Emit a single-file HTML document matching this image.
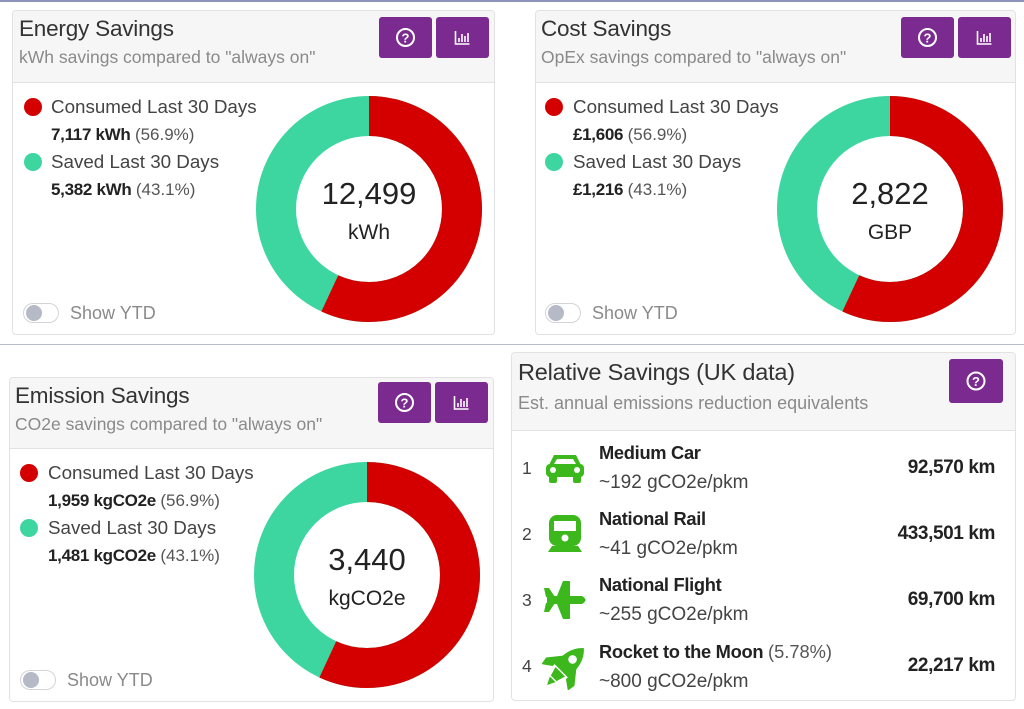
<!DOCTYPE html>
<html><head><meta charset="utf-8">
<style>
*{margin:0;padding:0;box-sizing:border-box}
html,body{width:1024px;height:709px;overflow:hidden;background:#fff;font-family:"Liberation Sans",sans-serif}
.abs{position:absolute}
.panel{position:absolute;border:1px solid #e2e2e2;border-radius:4px;background:#fff;overflow:hidden}
.hdr{position:absolute;left:0;top:0;right:0;background:#f6f6f6;border-bottom:1px solid #e2e2e2}
.title{position:absolute;font-size:22.5px;color:#333;white-space:nowrap;letter-spacing:-0.2px}
.sub{position:absolute;font-size:17.5px;color:#8a8a8a;white-space:nowrap}
.btn{position:absolute;width:53px;height:41px;background:#7b2b8f;border-radius:3px}
.btn svg{position:absolute;left:0;top:0}
.dot{position:absolute;width:18px;height:18px;border-radius:50%}
.lbl{position:absolute;font-size:18.8px;color:#444;white-space:nowrap;line-height:20px}
.val{position:absolute;font-size:17px;color:#222;white-space:nowrap;line-height:20px;font-weight:bold;letter-spacing:-0.3px}
.val span{font-weight:normal;color:#555;letter-spacing:0}
.tog{position:absolute;width:36px;height:20px;border:1px solid #d4d4d8;border-radius:10px;background:#fff}
.tog:after{content:"";position:absolute;left:2px;top:1px;width:16px;height:16px;border-radius:50%;background:#b6b9c6}
.ytd{position:absolute;font-size:18px;color:#8a8a8a;white-space:nowrap;line-height:20px}
.ctr{position:absolute;text-align:center;width:160px;color:#222}
.num{font-size:31px;line-height:36px}
.unit{font-size:21px;line-height:26px}
.rn{position:absolute;font-size:17.5px;color:#444;line-height:20px}
.rt{position:absolute;font-size:18.3px;color:#222;font-weight:bold;line-height:20px;white-space:nowrap;letter-spacing:-0.3px}
.rt span{font-weight:normal;color:#555;letter-spacing:0}
.rs{position:absolute;font-size:19px;color:#444;line-height:20px;white-space:nowrap}
.rv{position:absolute;right:29px;font-size:19px;color:#222;font-weight:bold;line-height:20px;white-space:nowrap;letter-spacing:-0.4px;text-align:right}
</style></head><body>

<!-- top line -->
<div class="abs" style="left:0;top:0;width:1024px;height:2px;background:#8d92b8"></div>
<!-- middle separator -->
<div class="abs" style="left:0;top:344px;width:1024px;height:1px;background:#b7bbcb"></div>

<!-- Energy Savings -->
<div class="panel" style="left:12px;top:10px;width:483px;height:325px">
  <div class="hdr" style="height:72px"></div>
</div>
<div class="title" style="left:19px;top:16px">Energy Savings</div>
<div class="sub" style="left:19px;top:47px">kWh savings compared to "always on"</div>
<div class="btn" style="left:379px;top:17px"><svg width="53" height="41"><circle cx="26.5" cy="20.5" r="8.5" fill="none" stroke="#fff" stroke-width="2"/><text x="26.5" y="25.5" font-size="13" font-weight="bold" fill="#fff" text-anchor="middle" font-family="Liberation Sans">?</text></svg></div>
<div class="btn" style="left:436px;top:17px"><svg width="53" height="41"><path d="M19.5 14 V27 H33.5" fill="none" stroke="#fff" stroke-width="1.6"/><path d="M23 25V21M26 25V17M29 25V19M32 25V16" stroke="#fff" stroke-width="1.6"/></svg></div>

<div class="dot" style="left:24px;top:98px;background:#d40000"></div>
<div class="lbl" style="left:51px;top:97px">Consumed Last 30 Days</div>
<div class="val" style="left:51px;top:125px">7,117 kWh <span>(56.9%)</span></div>
<div class="dot" style="left:24px;top:153px;background:#3dd6a0"></div>
<div class="lbl" style="left:51px;top:152px">Saved Last 30 Days</div>
<div class="val" style="left:51px;top:180px">5,382 kWh <span>(43.1%)</span></div>
<div class="tog" style="left:23px;top:303px"></div>
<div class="ytd" style="left:70px;top:303px">Show YTD</div>

<svg class="abs" style="left:255px;top:95px" width="228" height="228">
  <circle cx="114" cy="114" r="93" fill="none" stroke="#3dd6a0" stroke-width="40"/>
  <circle cx="114" cy="114" r="93" fill="none" stroke="#d40000" stroke-width="40" stroke-dasharray="332.5 600" transform="rotate(-90 114 114)"/>
</svg>
<div class="ctr" style="left:289px;top:176px"><div class="num">12,499</div><div class="unit" style="margin-top:8px">kWh</div></div>

<!-- Cost Savings -->
<div class="panel" style="left:535px;top:10px;width:481px;height:325px">
  <div class="hdr" style="height:72px"></div>
</div>
<div class="title" style="left:541px;top:16px">Cost Savings</div>
<div class="sub" style="left:541px;top:47px">OpEx savings compared to "always on"</div>
<div class="btn" style="left:901px;top:17px"><svg width="53" height="41"><circle cx="26.5" cy="20.5" r="8.5" fill="none" stroke="#fff" stroke-width="2"/><text x="26.5" y="25.5" font-size="13" font-weight="bold" fill="#fff" text-anchor="middle" font-family="Liberation Sans">?</text></svg></div>
<div class="btn" style="left:958px;top:17px"><svg width="53" height="41"><path d="M19.5 14 V27 H33.5" fill="none" stroke="#fff" stroke-width="1.6"/><path d="M23 25V21M26 25V17M29 25V19M32 25V16" stroke="#fff" stroke-width="1.6"/></svg></div>

<div class="dot" style="left:545px;top:98px;background:#d40000"></div>
<div class="lbl" style="left:573px;top:97px">Consumed Last 30 Days</div>
<div class="val" style="left:573px;top:125px">£1,606 <span>(56.9%)</span></div>
<div class="dot" style="left:545px;top:153px;background:#3dd6a0"></div>
<div class="lbl" style="left:573px;top:152px">Saved Last 30 Days</div>
<div class="val" style="left:573px;top:180px">£1,216 <span>(43.1%)</span></div>
<div class="tog" style="left:545px;top:303px"></div>
<div class="ytd" style="left:592px;top:303px">Show YTD</div>

<svg class="abs" style="left:776px;top:95px" width="228" height="228">
  <circle cx="114" cy="114" r="93" fill="none" stroke="#3dd6a0" stroke-width="40"/>
  <circle cx="114" cy="114" r="93" fill="none" stroke="#d40000" stroke-width="40" stroke-dasharray="332.5 600" transform="rotate(-90 114 114)"/>
</svg>
<div class="ctr" style="left:810px;top:176px"><div class="num">2,822</div><div class="unit" style="margin-top:8px">GBP</div></div>

<!-- Emission Savings -->
<div class="panel" style="left:9px;top:377px;width:485px;height:325px">
  <div class="hdr" style="height:71px"></div>
</div>
<div class="title" style="left:15px;top:383px">Emission Savings</div>
<div class="sub" style="left:15px;top:414px">CO2e savings compared to "always on"</div>
<div class="btn" style="left:378px;top:382px"><svg width="53" height="41"><circle cx="26.5" cy="20.5" r="8.5" fill="none" stroke="#fff" stroke-width="2"/><text x="26.5" y="25.5" font-size="13" font-weight="bold" fill="#fff" text-anchor="middle" font-family="Liberation Sans">?</text></svg></div>
<div class="btn" style="left:435px;top:382px"><svg width="53" height="41"><path d="M19.5 14 V27 H33.5" fill="none" stroke="#fff" stroke-width="1.6"/><path d="M23 25V21M26 25V17M29 25V19M32 25V16" stroke="#fff" stroke-width="1.6"/></svg></div>

<div class="dot" style="left:20px;top:464px;background:#d40000"></div>
<div class="lbl" style="left:48px;top:463px">Consumed Last 30 Days</div>
<div class="val" style="left:48px;top:491px">1,959 kgCO2e <span>(56.9%)</span></div>
<div class="dot" style="left:20px;top:519px;background:#3dd6a0"></div>
<div class="lbl" style="left:48px;top:518px">Saved Last 30 Days</div>
<div class="val" style="left:48px;top:546px">1,481 kgCO2e <span>(43.1%)</span></div>
<div class="tog" style="left:20px;top:670px"></div>
<div class="ytd" style="left:67px;top:670px">Show YTD</div>

<svg class="abs" style="left:253px;top:461px" width="228" height="228">
  <circle cx="114" cy="114" r="93" fill="none" stroke="#3dd6a0" stroke-width="40"/>
  <circle cx="114" cy="114" r="93" fill="none" stroke="#d40000" stroke-width="40" stroke-dasharray="332.5 600" transform="rotate(-90 114 114)"/>
</svg>
<div class="ctr" style="left:287px;top:542px"><div class="num">3,440</div><div class="unit" style="margin-top:8px">kgCO2e</div></div>

<!-- Relative Savings -->
<div class="panel" style="left:511px;top:352px;width:505px;height:349px">
  <div class="hdr" style="height:78px"></div>
</div>
<div class="title" style="left:518px;top:359px;font-size:23.5px">Relative Savings (UK data)</div>
<div class="sub" style="left:518px;top:393px;font-size:18px">Est. annual emissions reduction equivalents</div>
<div class="btn" style="left:949px;top:359px;width:54px;height:44px"><svg width="54" height="44"><circle cx="27" cy="22" r="8.5" fill="none" stroke="#fff" stroke-width="2"/><text x="27" y="27" font-size="13" font-weight="bold" fill="#fff" text-anchor="middle" font-family="Liberation Sans">?</text></svg></div>

<!-- row 1 -->
<div class="rn" style="left:522px;top:458px">1</div>
<svg class="abs" style="left:545px;top:452px" width="40" height="32" viewBox="0 0 40 32">
  <path d="M9 3 H31 L36 13 H4 Z" fill="#3cb81c"/>
  <path d="M12 7 H28 L31 12 H9 Z" fill="#fff"/>
  <rect x="1" y="12" width="38" height="13" rx="4" fill="#3cb81c"/>
  <circle cx="8" cy="18" r="3" fill="#fff"/><circle cx="32" cy="18" r="3" fill="#fff"/>
  <rect x="4" y="23" width="8" height="8" rx="2" fill="#3cb81c"/><rect x="28" y="23" width="8" height="8" rx="2" fill="#3cb81c"/>
</svg>
<div class="rt" style="left:599px;top:443px">Medium Car</div>
<div class="rs" style="left:599px;top:473px">~192 gCO2e/pkm</div>
<div class="rv" style="top:458px">92,570 km</div>

<!-- row 2 -->
<div class="rn" style="left:522px;top:524px">2</div>
<svg class="abs" style="left:546px;top:514px" width="38" height="40" viewBox="0 0 38 40">
  <rect x="3" y="1" width="32" height="31" rx="8" fill="#3cb81c"/>
  <rect x="8" y="7" width="22" height="10" fill="#fff"/>
  <circle cx="19" cy="24" r="3.5" fill="#fff"/>
  <path d="M6 32 H32 L36 38 H2 Z" fill="#3cb81c"/>
</svg>
<div class="rt" style="left:599px;top:509px">National Rail</div>
<div class="rs" style="left:599px;top:539px">~41 gCO2e/pkm</div>
<div class="rv" style="top:524px">433,501 km</div>

<!-- row 3 -->
<div class="rn" style="left:522px;top:590px">3</div>
<svg class="abs" style="left:544px;top:580px" width="44" height="40" viewBox="0 0 44 40">
  <path d="M3 16 H38 Q45 20 38 24 H3 Z" fill="#3cb81c"/>
  <path d="M13 16 L19 1 H26 L26 16 Z" fill="#3cb81c"/>
  <path d="M13 24 L19 39 H26 L26 24 Z" fill="#3cb81c"/>
  <path d="M2 17 L0 8 H5 L11 17 Z" fill="#3cb81c"/>
  <path d="M2 23 L0 32 H5 L11 23 Z" fill="#3cb81c"/>
</svg>
<div class="rt" style="left:599px;top:575px">National Flight</div>
<div class="rs" style="left:599px;top:605px">~255 gCO2e/pkm</div>
<div class="rv" style="top:590px">69,700 km</div>

<!-- row 4 -->
<div class="rn" style="left:522px;top:656px">4</div>
<svg class="abs" style="left:542px;top:644px" width="46" height="46" viewBox="0 0 42 42">
  <g transform="translate(21 21) rotate(45) scale(1.22) translate(-21 -21)">
    <path d="M21 1 Q30 9 28 25 H14 Q12 9 21 1 Z" fill="#3cb81c"/>
    <circle cx="21" cy="13" r="3.2" fill="#fff"/>
    <path d="M14 16 L6 26 L7 32 L14 27 Z" fill="#3cb81c"/>
    <path d="M28 16 L36 26 L35 32 L28 27 Z" fill="#3cb81c"/>
    <path d="M16 26 H26 L24 33 H18 Z" fill="#3cb81c"/>
    <path d="M18 34 H24 L21 40 Z" fill="#3cb81c"/>
  </g>
</svg>
<div class="rt" style="left:599px;top:642px">Rocket to the Moon <span>(5.78%)</span></div>
<div class="rs" style="left:599px;top:672px">~800 gCO2e/pkm</div>
<div class="rv" style="top:656px">22,217 km</div>

</body></html>
